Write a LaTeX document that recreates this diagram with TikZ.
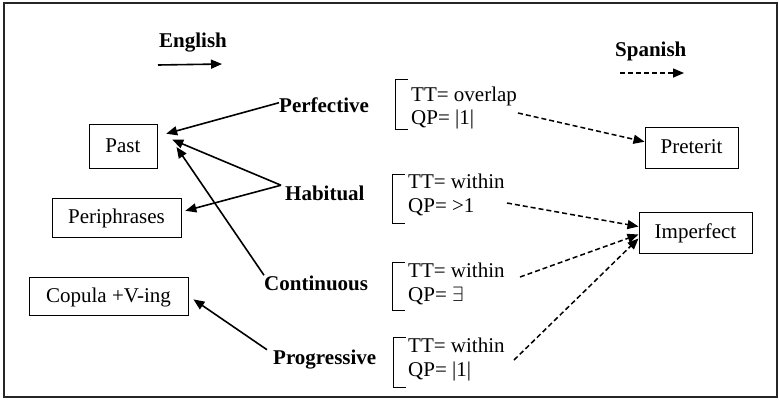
\documentclass[tikz,border=0pt]{standalone}
\usepackage{fontspec}
\setmainfont{Liberation Serif}
\usetikzlibrary{arrows.meta}
\begin{document}
\begin{tikzpicture}[x=1pt,y=-1pt,
  txt/.style={font=\fontsize{21}{24}\selectfont, inner sep=0pt, anchor=base west},
  lbl/.style={font=\fontsize{21}{24}\selectfont\bfseries, inner sep=0pt, anchor=base west},
  box/.style={draw, line width=1pt, inner sep=0pt, anchor=center, font=\fontsize{21}{24}\selectfont, text height=16pt, text depth=4pt},
  sol/.style={line width=1.6pt, -{Triangle[length=11pt,width=9pt]}},
  dsh/.style={line width=1.5pt, dash pattern=on 5pt off 3pt, -{Triangle[length=11pt,width=9pt]}},
  brk/.style={line width=1pt},
]
\useasboundingbox (0,0) rectangle (779,399);
\draw[line width=1.5pt, black!85] (4,3) rectangle (777,397);

% legend
\node[lbl] (eng) at (159,47) {English};
\node[lbl] (spa) at (615,56) {Spanish};
\coordinate (le1) at (158,65);
\coordinate (le2) at (222,64);
\coordinate (ls1) at (620,73);
\coordinate (ls2) at (684,73);
\draw[sol] (le1) -- (le2);
\draw[dsh] (ls1) -- (ls2);

% boxes
\node[box, minimum width=68pt, minimum height=44pt] (past) at (123,146) {Past};
\node[box, minimum width=129pt, minimum height=39pt] (peri) at (116.5,217.5) {Periphrases};
\node[box, minimum width=159pt, minimum height=38pt] (cop) at (108.5,296) {Copula +V-ing};
\node[box, minimum width=93pt, minimum height=41pt] (pret) at (691.5,147.5) {Preterit};
\node[box, minimum width=113pt, minimum height=41pt] (imp) at (695.5,232.5) {Imperfect};

% aspect labels
\node[lbl] (perf) at (279,112) {Perfective};
\node[lbl] (hab) at (285,200) {Habitual};
\node[lbl] (cont) at (264,290) {Continuous};
\node[lbl] (prog) at (273,364.5) {Progressive};

% bracketed features
\node[txt] (tt1) at (411,101) {TT= overlap};
\node[txt] (qp1) at (411,124) {QP= |1|};
\node[txt] (tt2) at (408,188) {TT= within};
\node[txt] (qp2) at (408,212) {QP= >1};
\node[txt] (tt3) at (408,277) {TT= within};
\node[txt] (qp3) at (408,301) {QP= $\exists$};
\node[txt] (tt4) at (408,352) {TT= within};
\node[txt] (qp4) at (408,376) {QP= |1|};

\draw[brk] (408,79) -- (395,79) -- (395,129) -- (408,129);
\draw[brk] (405,174) -- (392,174) -- (392,223) -- (405,223);
\draw[brk] (405,262) -- (392,262) -- (392,310) -- (405,310);
\draw[brk] (406,337) -- (393,337) -- (393,387) -- (406,387);

% solid connectors
\draw[sol, shorten >=9pt] ([yshift=2pt]perf.west) -- (past.16);
\draw[sol, shorten >=16pt] ([xshift=-4pt]hab.north west) -- (past.20);
\draw[sol, shorten >=4pt] ([xshift=-4pt]hab.north west) -- (peri.5);
\draw[sol] (cont.north west) -- ([shift={(19,1)}]past.east);
\draw[sol, shorten >=6pt] ([xshift=-6pt]prog.north west) -- (cop.east);

% dashed connectors
\coordinate (s1) at (518,113);
\coordinate (s2) at (507,203);
\coordinate (s3) at (520,277);
\coordinate (s4) at (514,360);
\draw[dsh] (s1) -- (pret.173);
\draw[dsh] (s2) -- (imp.174);
\draw[dsh] (s3) -- (imp.182);
\draw[dsh] (s4) -- (imp.186);
\end{tikzpicture}
\end{document}
